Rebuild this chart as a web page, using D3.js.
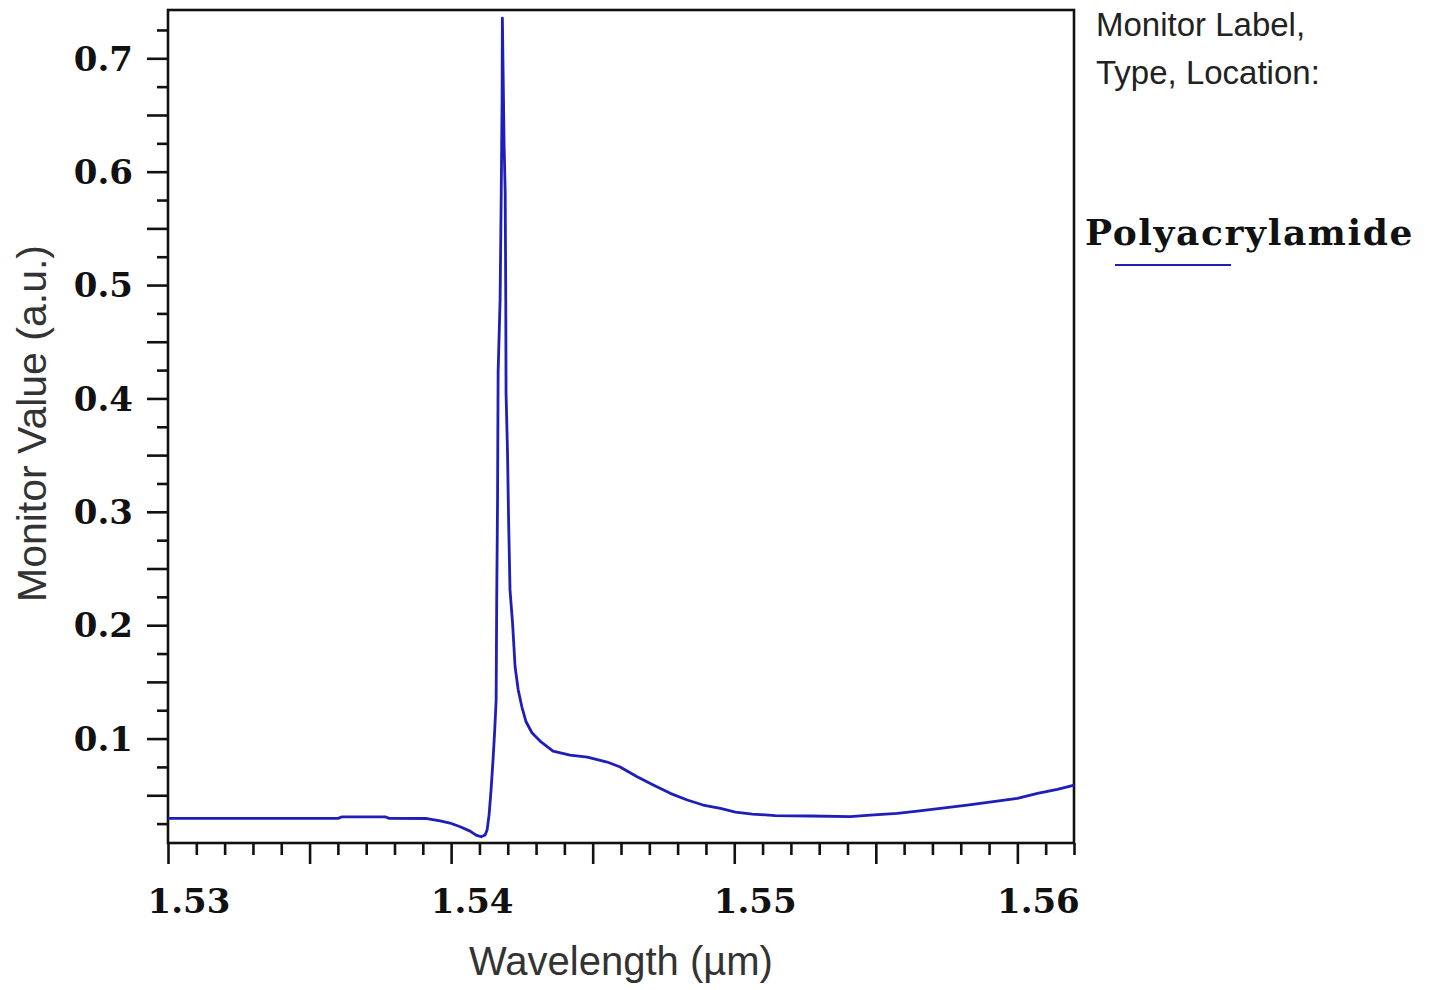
<!DOCTYPE html>
<html>
<head>
<meta charset="utf-8">
<script src="https://cdn.jsdelivr.net/npm/d3@7"></script>
<style>
  html, body { margin: 0; padding: 0; background: #ffffff; }
  svg { display: block; }
</style>
</head>
<body>
<svg id="chart" width="1432" height="990"></svg>
<script>
// Transmission spectrum recorded by the monitor (wavelength in µm, value in a.u.)
const wavelength = [
  1.53000, 1.53290, 1.53601, 1.53615, 1.53767, 1.53781, 1.53915, 1.53961, 1.53996, 1.54032,
  1.54067, 1.54088, 1.54106, 1.54120, 1.54127, 1.54134, 1.54141, 1.54148, 1.54154, 1.54159,
  1.54161, 1.54164, 1.54166, 1.54173, 1.54177, 1.54180, 1.54181, 1.54184, 1.54187, 1.54191,
  1.54193, 1.54194, 1.54199, 1.54203, 1.54208, 1.54217, 1.54226, 1.54237, 1.54250, 1.54265,
  1.54286, 1.54314, 1.54360, 1.54420, 1.54481, 1.54551, 1.54597, 1.54657, 1.54714, 1.54774,
  1.54834, 1.54890, 1.54951, 1.55004, 1.55064, 1.55145, 1.55269, 1.55410, 1.55481, 1.55576,
  1.55647, 1.55728, 1.55823, 1.55915, 1.56000, 1.56071, 1.56141, 1.56201
];
const monitorValue = [
  0.0296, 0.0296, 0.0296, 0.0310, 0.0310, 0.0296, 0.0295, 0.0275, 0.0255, 0.0222,
  0.0184, 0.0149, 0.0134, 0.0149, 0.0193, 0.0325, 0.0546, 0.0811, 0.1075, 0.1340,
  0.2222, 0.3104, 0.4233, 0.4869, 0.5812, 0.6632, 0.7355, 0.6809, 0.6253, 0.5812,
  0.4869, 0.4048, 0.3545, 0.2928, 0.2310, 0.2019, 0.1631, 0.1428, 0.1278, 0.1146,
  0.1049, 0.0978, 0.0890, 0.0855, 0.0837, 0.0793, 0.0749, 0.0663, 0.0590, 0.0517,
  0.0458, 0.0414, 0.0385, 0.0352, 0.0334, 0.0321, 0.0317, 0.0312, 0.0325, 0.0340,
  0.0361, 0.0385, 0.0414, 0.0443, 0.0473, 0.0517, 0.0552, 0.0590
];

const xTickLabels = ["1.53", "1.54", "1.55", "1.56"];
const yTickLabels = ["0.1", "0.2", "0.3", "0.4", "0.5", "0.6", "0.7"];
const seriesName = "Polyacrylamide";
const legendHeader = ["Monitor Label,", "Type, Location:"];
const xTitle = "Wavelength (\u00B5m)";
const yTitle = "Monitor Value (a.u.)";

const plot = { left: 168, right: 1074, top: 10, bottom: 843 };
const lineColor = "#1e1eb8";
const tickFont = "'DejaVu Serif', serif";
const sansFont = "'Liberation Sans', Arial, sans-serif";

const svg = d3.select("#chart");

const x = d3.scaleLinear().domain([1.53, 1.562]).range([plot.left, plot.right]);
const y = d3.scaleLinear().domain([0.0079, 0.7426]).range([plot.bottom, plot.top]);

// tick positions
const xMinor = d3.range(0, 33).map(i => +(1.53 + i * 0.001).toFixed(3)).filter(v => Math.round(v * 1000) % 5 !== 0);
const xMajor = d3.range(0, 7).map(i => +(1.53 + i * 0.005).toFixed(3));
const yMinor = d3.range(0, 15).map(i => +(0.025 + i * 0.05).toFixed(3));
const yMajor = d3.range(1, 15).map(i => +(i * 0.05).toFixed(3));

function styleAxis(g) {
  g.select(".domain").remove();
  g.selectAll(".tick line").attr("stroke", "#111").attr("stroke-width", 2.6);
  g.selectAll(".tick text").remove();
}

svg.append("g").attr("transform", `translate(0,${plot.bottom})`)
  .call(d3.axisBottom(x).tickValues(xMinor).tickSize(12).tickFormat(""))
  .call(styleAxis);
svg.append("g").attr("transform", `translate(0,${plot.bottom})`)
  .call(d3.axisBottom(x).tickValues(xMajor).tickSize(21).tickFormat(""))
  .call(styleAxis);
svg.append("g").attr("transform", `translate(${plot.left},0)`)
  .call(d3.axisLeft(y).tickValues(yMinor).tickSize(11).tickFormat(""))
  .call(styleAxis);
svg.append("g").attr("transform", `translate(${plot.left},0)`)
  .call(d3.axisLeft(y).tickValues(yMajor).tickSize(21).tickFormat(""))
  .call(styleAxis);

// plot frame
svg.append("rect")
  .attr("x", plot.left).attr("y", plot.top)
  .attr("width", plot.right - plot.left).attr("height", plot.bottom - plot.top)
  .attr("fill", "none").attr("stroke", "#111").attr("stroke-width", 2.6);

// tick labels
svg.append("g").selectAll("text").data(xTickLabels).join("text")
  .attr("x", d => x(+d) + 21)
  .attr("y", 913)
  .attr("text-anchor", "middle")
  .attr("font-family", tickFont).attr("font-weight", "bold").attr("font-size", 34)
  .attr("fill", "#111")
  .text(d => d);

svg.append("g").selectAll("text").data(yTickLabels).join("text")
  .attr("x", 133)
  .attr("y", d => y(+d))
  .attr("dy", "0.36em")
  .attr("text-anchor", "end")
  .attr("font-family", tickFont).attr("font-weight", "bold").attr("font-size", 34)
  .attr("fill", "#111")
  .text(d => d);

// axis titles
svg.append("text")
  .attr("x", (plot.left + plot.right) / 2).attr("y", 975)
  .attr("text-anchor", "middle")
  .attr("font-family", sansFont).attr("font-size", 40).attr("fill", "#333")
  .text(xTitle);

svg.append("text")
  .attr("transform", `translate(46,${(plot.top + plot.bottom) / 2 - 3}) rotate(-90)`)
  .attr("text-anchor", "middle")
  .attr("font-family", sansFont).attr("font-size", 41).attr("fill", "#333")
  .text(yTitle);

// spectrum
const points = wavelength.map((w, i) => [w, monitorValue[i]]);
svg.append("path")
  .datum(points)
  .attr("fill", "none")
  .attr("stroke", lineColor)
  .attr("stroke-width", 2.8)
  .attr("stroke-linejoin", "round")
  .attr("d", d3.line().x(d => x(d[0])).y(d => y(d[1])));

// legend
const legend = svg.append("g");
legend.selectAll("text.hdr").data(legendHeader).join("text")
  .attr("class", "hdr")
  .attr("x", 1096).attr("y", (d, i) => 36 + i * 48)
  .attr("font-family", sansFont).attr("font-size", 33).attr("fill", "#222")
  .text(d => d);
legend.append("text")
  .attr("x", 1085).attr("y", 245)
  .attr("font-family", tickFont).attr("font-weight", "bold").attr("font-size", 36)
  .attr("letter-spacing", 1.6)
  .attr("fill", "#111")
  .text(seriesName);
legend.append("line")
  .attr("x1", 1115).attr("x2", 1231).attr("y1", 265).attr("y2", 265)
  .attr("stroke", lineColor).attr("stroke-width", 2.2);
</script>
</body>
</html>
